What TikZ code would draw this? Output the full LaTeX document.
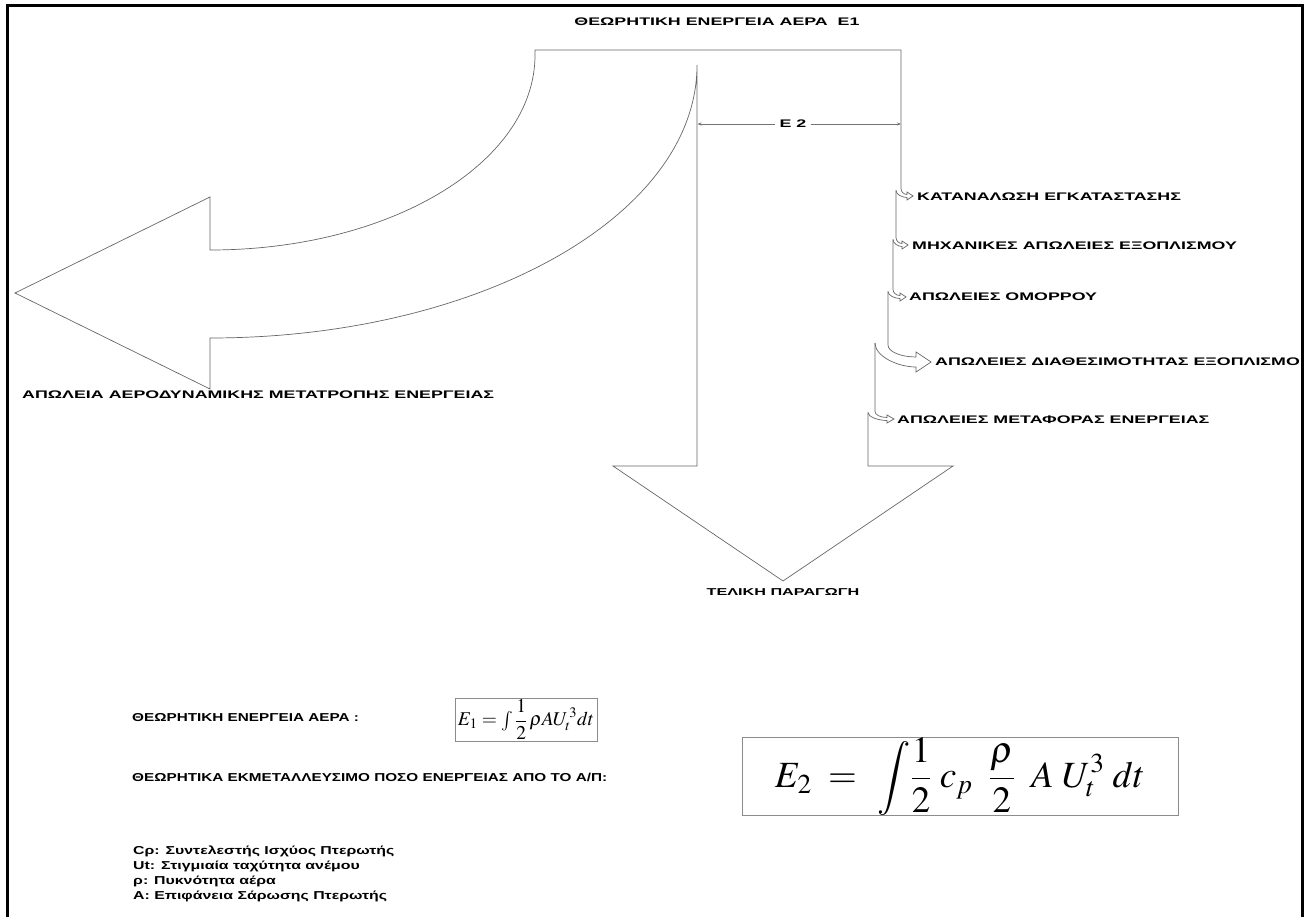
\documentclass[tikz,border=0pt]{standalone}
\usepackage{mathptmx}
\usepackage{fontspec}
\usetikzlibrary{arrows.meta}
\newfontfamily\labfont[FakeStretch=1.62, BoldFeatures={FakeStretch=1.62}]{Liberation Sans}
\newfontfamily\txtfont[FakeStretch=1.33, BoldFeatures={FakeStretch=1.33}]{Liberation Sans}
\newfontfamily\legfont[FakeStretch=1.38, BoldFeatures={FakeStretch=1.38}]{Liberation Sans}

\begin{document}
\begin{tikzpicture}[x=1pt,y=-1pt,
		flow/.style={draw=black!60, line width=0.7pt, line join=miter},
		lbl/.style={font=\labfont\bfseries\fontsize{11}{13}\selectfont, inner sep=0pt},
		txt/.style={font=\txtfont\bfseries\fontsize{11.5}{14}\selectfont, inner sep=0pt},
		legend/.style={font=\legfont\bfseries\fontsize{11.5}{15}\selectfont, inner sep=0pt, align=left},
		fbox/.style={draw=black!45, line width=0.8pt, inner sep=0pt},
		dim/.style={draw=black!55, line width=0.6pt}]
	\useasboundingbox (0,0) rectangle (1310,917);
	% frame
	\draw[line width=3pt] (7,930) -- (7,6) -- (1302,6) -- (1302,930);
	% texts
	\node[lbl] (title) at (717,22) {ΘΕΩΡΗΤΙΚΗ ΕΝΕΡΓΕΙΑ ΑΕΡΑ\ \ Ε1};
	\node[lbl, anchor=west] (aero) at (22,395) {ΑΠΩΛΕΙΑ ΑΕΡΟΔΥΝΑΜΙΚΗΣ ΜΕΤΑΤΡΟΠΗΣ ΕΝΕΡΓΕΙΑΣ};
	\node[lbl, font=\labfont\bfseries\fontsize{10}{12}\selectfont] (final) at (783,592) {ΤΕΛΙΚΗ ΠΑΡΑΓΩΓΗ};
	\node[lbl, anchor=west] (L1) at (917,197) {ΚΑΤΑΝΑΛΩΣΗ ΕΓΚΑΤΑΣΤΑΣΗΣ};
	\node[lbl, anchor=west] (L2) at (912,246) {ΜΗΧΑΝΙΚΕΣ ΑΠΩΛΕΙΕΣ ΕΞΟΠΛΙΣΜΟΥ};
	\node[lbl, anchor=west] (L3) at (909,297) {ΑΠΩΛΕΙΕΣ ΟΜΟΡΡΟΥ};
	\begin{scope}
		\clip (0,0) rectangle (1301,917);
		\node[lbl, anchor=west] (L4) at (935,362) {ΑΠΩΛΕΙΕΣ ΔΙΑΘΕΣΙΜΟΤΗΤΑΣ ΕΞΟΠΛΙΣΜΟ};
	\end{scope}
	\node[lbl, anchor=west] (L5) at (897,420) {ΑΠΩΛΕΙΕΣ ΜΕΤΑΦΟΡΑΣ ΕΝΕΡΓΕΙΑΣ};
	% top and loss arrow
	\draw[flow] (901,50) -- (535,50) -- (535,55) .. controls (535,163) and (390,250) .. (210,250)
		-- (210,197) -- (15,293) -- (210,389) -- (210,338)
		.. controls (479,338) and (697,216) .. (697,65)
		-- (697,466) -- (613,466) -- (783,581) -- (953,466) -- (868,466) -- (868,412.5);
	% branch losses
	\foreach \xo/\yt/\xn/\ya/\hw/\hh/\L/\tip/\r/\s in
		{901/50/896/196/1.5/4/907/913/6/7,
		 896/190.5/893/245/1.5/4/902/908/6/7,
		 893/239.5/888/297/1.5/4/900/906/6/7,
		 888/291.5/875/362/5/10/916/931/12/24,
		 875/343/868/419/1.5/4/887/894/6/8}
		\draw[flow] (\xo,\yt) -- (\xo,{\ya-\hw-\r})
			.. controls (\xo,{\ya-\hw-0.45*\r}) and ({\xo+0.45*(\L-\xo)},{\ya-\hw}) .. (\L,{\ya-\hw})
			-- (\L,{\ya-\hh}) -- (\tip,\ya) -- (\L,{\ya+\hh}) -- (\L,{\ya+\hw})
			.. controls ({\xn+0.55*(\L-\xn)},{\ya+\hw}) and (\xn,{\ya+\hw-0.45*\s}) .. (\xn,{\ya+\hw-\s});
	% E2 width
	\coordinate (e2l) at (697.5,124);
	\coordinate (e2r) at (901,124);
	\node[lbl, inner sep=4pt] (e2) at (793,124) {Ε 2};
	\draw[dim, -{Stealth[length=4pt,width=3pt]}] (e2) -- (e2l);
	\draw[dim, -{Stealth[length=4pt,width=3pt]}] (e2) -- (e2r);
	% formulas
	\node[txt, anchor=west] (t1) at (132,718) {ΘΕΩΡΗΤΙΚΗ ΕΝΕΡΓΕΙΑ ΑΕΡΑ :};
	\node[txt, anchor=west] (t2) at (132,777) {ΘΕΩΡΗΤΙΚΑ ΕΚΜΕΤΑΛΛΕΥΣΙΜΟ ΠΟΣΟ ΕΝΕΡΓΕΙΑΣ ΑΠΟ ΤΟ Α/Π:};
	\node[fbox, minimum width=142, minimum height=43] (f1) at (526,719.5)
		{\fontsize{19.5}{21}\selectfont $E_1 = \int \displaystyle\frac{1}{2}\,\rho A U_t^{\,3} dt$};
	\node[fbox, minimum width=436, minimum height=69] (f2) at (960,776.5)
		{\fontsize{37}{40}\selectfont $E_2 \;=\;\, \displaystyle\int\!\frac{1}{2}\;c_p\;\;\frac{\rho}{2}\;\;A\;U_t^3\;dt$};
	% legend
	\node[legend, anchor=north west] (leg) at (133,846)
		{Cρ: Συντελεστής Ισχύος Πτερωτής\\Ut: Στιγμιαία ταχύτητα ανέμου\\ρ: Πυκνότητα αέρα\\Α: Επιφάνεια Σάρωσης Πτερωτής};
\end{tikzpicture}
\end{document}
